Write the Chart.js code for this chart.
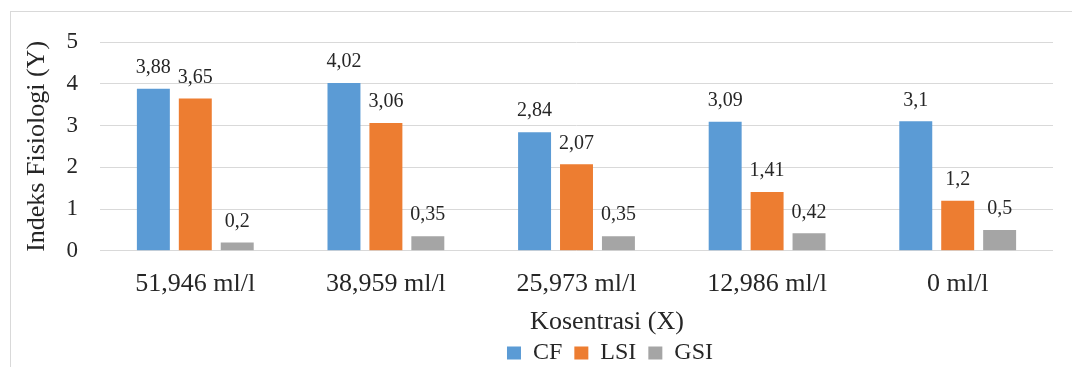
<!DOCTYPE html>
<html>
<head>
<meta charset="utf-8">
<script src="https://cdn.jsdelivr.net/npm/chart.js@4.4.1/dist/chart.umd.min.js"></script>
<style>
  html, body { margin: 0; padding: 0; background: #fff; overflow: hidden; }
  #frame { position: absolute; left: 10px; top: 11px; width: 1100px; height: 400px; border: 1px solid #d9d9d9; }
  #chart { position: absolute; left: 0; top: 0; }
</style>
</head>
<body>
<div id="frame"></div>
<canvas id="chart" width="1072" height="367"></canvas>
<script>
// data
const categories = ['51,946 ml/l', '38,959 ml/l', '25,973 ml/l', '12,986 ml/l', '0 ml/l'];
const cfValues = [3.88, 4.02, 2.84, 3.09, 3.1];
const lsiValues = [3.65, 3.06, 2.07, 1.41, 1.2];
const gsiValues = [0.2, 0.35, 0.35, 0.42, 0.5];
const seriesNames = ['CF', 'LSI', 'GSI'];

const FONT = "'Liberation Serif', 'Times New Roman', serif";
const TEXT = '#262626';

// label di atas batang
const valueLabels = {
    id: 'valueLabels',
    afterDatasetsDraw(chart) {
        const ctx = chart.ctx;
        ctx.save();
        ctx.font = '20px ' + FONT;
        ctx.fillStyle = TEXT;
        ctx.textAlign = 'center';
        ctx.textBaseline = 'middle';
        chart.data.datasets.forEach((ds, i) => {
            chart.getDatasetMeta(i).data.forEach((bar, j) => {
                ctx.fillText(String(ds.data[j]).replace('.', ','), bar.x, bar.y - 21);
            });
        });
        ctx.restore();
    }
};

// geser judul sumbu X dan legenda seperti di gambar asli
const shiftBoxes = {
    id: 'shiftBoxes',
    afterLayout(chart) {
        const move = (box, cx, top) => {
            const dx = cx - (box.left + box.right) / 2;
            const dy = top - box.top;
            box.left += dx; box.right += dx;
            box.top += dy; box.bottom += dy;
        };
        move(chart.titleBlock, 607, 307);   // pusat teks ~322
        move(chart.legend, 610, 329);       // pusat teks ~353
    }
};

new Chart(document.getElementById('chart'), {
    type: 'bar',
    data: {
        labels: categories,
        datasets: [
            { label: seriesNames[0], data: cfValues, backgroundColor: '#5b9bd5' },
            { label: seriesNames[1], data: lsiValues, backgroundColor: '#ed7d31' },
            { label: seriesNames[2], data: gsiValues, backgroundColor: '#a5a5a5' }
        ]
    },
    options: {
        responsive: false,
        devicePixelRatio: 1,
        animation: false,
        categoryPercentage: 0.66,
        barPercentage: 0.786,
        layout: { padding: { left: 10, right: 19, top: 42, bottom: -21 } },
        scales: {
            x: {
                grid: { display: false },
                border: { display: false },
                ticks: { font: { family: FONT, size: 26 }, color: TEXT, padding: 10 },
                afterFit(scale) { scale.height = 60; }
            },
            y: {
                min: 0,
                max: 5,
                ticks: { stepSize: 1, font: { family: FONT, size: 23 }, color: TEXT, padding: 22 },
                grid: { color: '#d9d9d9', lineWidth: 1, drawTicks: false },
                border: { display: false },
                title: {
                    display: true,
                    text: 'Indeks Fisiologi (Y)',
                    font: { family: FONT, size: 26 },
                    color: TEXT,
                    padding: { top: 12, bottom: 0 }
                },
                afterFit(scale) { scale.width = 90; }
            }
        },
        plugins: {
            title: {
                display: true,
                position: 'bottom',
                weight: 500,
                text: 'Kosentrasi (X)',
                font: { family: FONT, size: 26, weight: 'normal' },
                color: TEXT,
                padding: { top: 0, bottom: 0 }
            },
            legend: {
                position: 'bottom',
                labels: {
                    font: { family: FONT, size: 24 },
                    color: TEXT,
                    boxWidth: 14,
                    boxHeight: 13,
                    padding: 12
                }
            },
            tooltip: { enabled: false }
        }
    },
    plugins: [valueLabels, shiftBoxes]
});
</script>
</body>
</html>
